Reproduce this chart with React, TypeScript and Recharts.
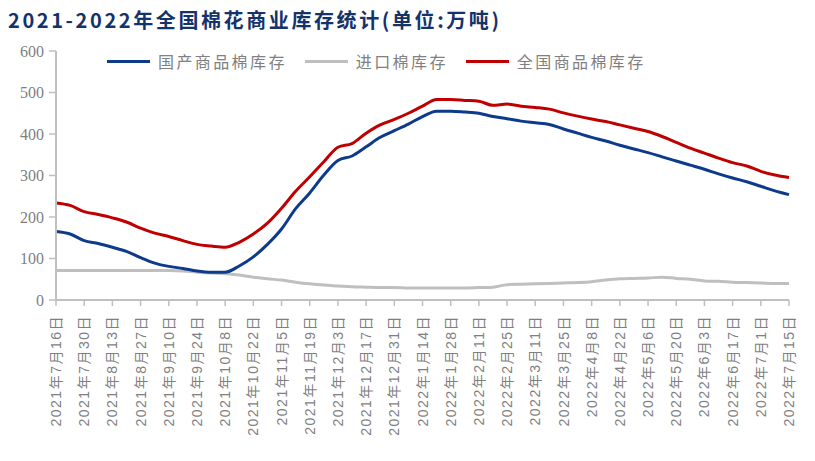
import { Line, LineChart, XAxis, YAxis } from "recharts";

// weekly dates, 2021-07-16 .. 2022-07-15
const DATES = [
  "2021年7月16日", "2021年7月23日", "2021年7月30日", "2021年8月6日", "2021年8月13日",
  "2021年8月20日", "2021年8月27日", "2021年9月3日", "2021年9月10日", "2021年9月17日",
  "2021年9月24日", "2021年10月1日", "2021年10月8日", "2021年10月15日", "2021年10月22日",
  "2021年10月29日", "2021年11月5日", "2021年11月12日", "2021年11月19日", "2021年11月26日",
  "2021年12月3日", "2021年12月10日", "2021年12月17日", "2021年12月24日", "2021年12月31日",
  "2022年1月7日", "2022年1月14日", "2022年1月21日", "2022年1月28日", "2022年2月4日",
  "2022年2月11日", "2022年2月18日", "2022年2月25日", "2022年3月4日", "2022年3月11日",
  "2022年3月18日", "2022年3月25日", "2022年4月1日", "2022年4月8日", "2022年4月15日",
  "2022年4月22日", "2022年4月29日", "2022年5月6日", "2022年5月13日", "2022年5月20日",
  "2022年5月27日", "2022年6月3日", "2022年6月10日", "2022年6月17日", "2022年6月24日",
  "2022年7月1日", "2022年7月8日", "2022年7月15日",
];

// 国产商品棉库存 (万吨)
const DOMESTIC = [
  165, 159, 143, 136, 127, 117, 102, 89, 81, 76,
  70, 67, 67, 82, 104, 134, 171, 220, 258, 301,
  336, 347, 369, 392, 408, 424, 442, 455, 455, 453,
  450, 442, 437, 431, 427, 423, 412, 402, 392, 383,
  373, 364, 355, 345, 335, 325, 315, 304, 294, 285,
  274, 263, 254,
];

// 进口棉库存
const IMPORTED = [
  71, 71, 71, 71, 71, 71, 71, 71, 71, 70,
  67, 65, 63, 60, 55, 51, 48, 43, 39, 36,
  34, 32, 31, 30, 30, 29, 29, 29, 29, 29,
  30, 31, 37, 38, 39, 40, 41, 42, 44, 48,
  51, 52, 53, 55, 52, 50, 46, 45, 43, 42,
  41, 40, 40,
];

// 全国商品棉库存
const TOTAL = [
  234, 228, 213, 206, 198, 188, 173, 161, 153, 143,
  134, 130, 127, 139, 159, 185, 221, 262, 297, 333,
  368, 377, 402, 422, 435, 450, 467, 483, 483, 481,
  479, 469, 472, 467, 464, 460, 451, 443, 436, 430,
  422, 414, 406, 394, 380, 366, 354, 342, 331, 323,
  310, 301, 295,
];

const Y_TICKS = [0, 100, 200, 300, 400, 500, 600];

const SERIES = [
  { key: "domestic", name: "国产商品棉库存", color: "#0D3A8A" },
  { key: "imported", name: "进口棉库存", color: "#BFBFBF" },
  { key: "total", name: "全国商品棉库存", color: "#C00000" },
];

const data = DATES.map((date, i) => ({
  date,
  domestic: DOMESTIC[i],
  imported: IMPORTED[i],
  total: TOTAL[i],
}));

const AXIS = "#BFBFBF";
const LABEL = "#7F7F7F";
const CJK = "'Noto Sans CJK SC', 'Noto Sans', sans-serif";

function DateTick(props: any) {
  const { x, y, payload } = props;
  return (
    <text
      x={0}
      y={0}
      dy="0.36em"
      transform={`translate(${x},${y + 7}) rotate(-90)`}
      textAnchor="end"
      fontSize={14}
      letterSpacing={1.5}
      fill={LABEL}
      fontFamily={`'Liberation Sans', ${CJK}`}
    >
      {payload.value}
    </text>
  );
}

export default function App() {
  return (
    <div
      style={{
        position: "absolute",
        left: 0,
        top: 0,
        width: 815,
        height: 461,
        background: "#fff",
        overflow: "hidden",
      }}
    >
      <div
        style={{
          position: "absolute",
          left: 8,
          top: 8,
          lineHeight: "24px",
          fontSize: 20,
          fontWeight: 700,
          letterSpacing: 2.6,
          color: "#15336B",
          fontFamily: CJK,
          whiteSpace: "nowrap",
        }}
      >
        2021-2022年全国棉花商业库存统计(单位:万吨)
      </div>

      <div
        style={{
          position: "absolute",
          left: 107,
          top: 50,
          height: 22,
          display: "flex",
          alignItems: "center",
          fontFamily: CJK,
          fontSize: 16,
          letterSpacing: 2.4,
          color: "#808080",
          whiteSpace: "nowrap",
          zIndex: 2,
        }}
      >
        {SERIES.map((s) => (
          <div key={s.key} style={{ display: "flex", alignItems: "center", marginRight: 18 }}>
            <span style={{ width: 43, height: 3, background: s.color, marginRight: 8 }} />
            <span>{s.name}</span>
          </div>
        ))}
      </div>

      <LineChart
        width={815}
        height={461}
        data={data}
        margin={{ top: 51, right: 26, bottom: 0, left: 0 }}
      >
        <XAxis
          dataKey="date"
          interval={1}
          height={161}
          tickSize={6}
          tickMargin={2}
          axisLine={{ stroke: AXIS, strokeWidth: 2 }}
          tickLine={{ stroke: AXIS, strokeWidth: 1.5 }}
          tick={<DateTick />}
        />
        <YAxis
          width={56}
          domain={[0, 600]}
          ticks={Y_TICKS}
          tickSize={7}
          tickMargin={5}
          axisLine={{ stroke: AXIS, strokeWidth: 2 }}
          tickLine={{ stroke: AXIS, strokeWidth: 1.5 }}
          tick={{ fill: LABEL, fontSize: 16, fontFamily: "'Liberation Serif', serif" }}
        />
        {[SERIES[1], SERIES[0], SERIES[2]].map((s) => (
          <Line
            key={s.key}
            type="monotone"
            dataKey={s.key}
            name={s.name}
            stroke={s.color}
            strokeWidth={3}
            dot={false}
            activeDot={false}
            isAnimationActive={false}
          />
        ))}
      </LineChart>
    </div>
  );
}
